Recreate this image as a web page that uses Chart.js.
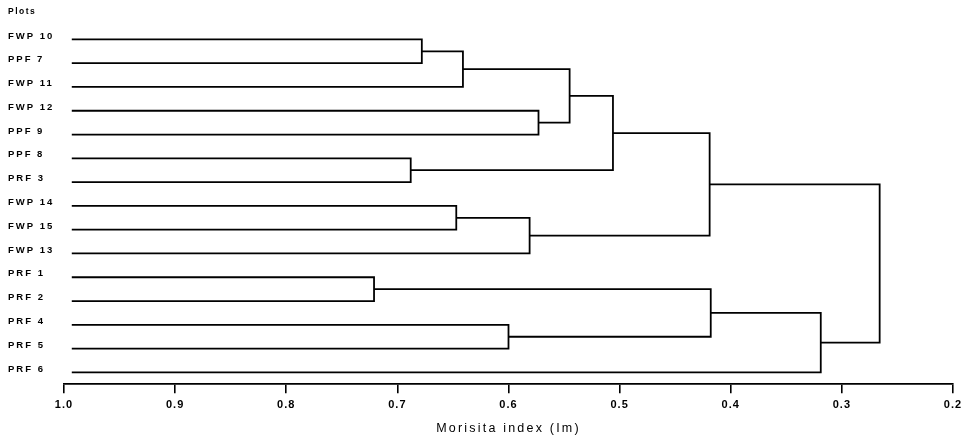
<!DOCTYPE html>
<html><head><meta charset="utf-8">
<script src="https://cdn.jsdelivr.net/npm/chart.js@4/dist/chart.umd.min.js"></script>
<style>html,body{margin:0;padding:0;background:#fff}</style>
</head><body>
<canvas id="c" width="967" height="435"></canvas>
<script>
// Leaves (top to bottom)
const plots = ['FWP 10','PPF 7','FWP 11','FWP 12','PPF 9','PPF 8','PRF 3','FWP 14','FWP 15','FWP 13','PRF 1','PRF 2','PRF 4','PRF 5','PRF 6'];
// Merges: ids 0..14 are leaves, each merge creates id 15, 16, ...
const mergeLeft  = [0, 15, 3, 16, 5, 18, 7, 21, 20, 10, 12, 24, 26, 23];
const mergeRight = [1,  2, 4, 17, 6, 19, 8,  9, 22, 11, 13, 25, 14, 27];
const mergeIndex = [0.678, 0.641, 0.573, 0.545, 0.688, 0.506, 0.647, 0.581, 0.419, 0.721, 0.600, 0.418, 0.319, 0.266];
const leafStart = 0.993;
const xTicks = [1.0, 0.9, 0.8, 0.7, 0.6, 0.5, 0.4, 0.3, 0.2];

const nodeX = plots.map(() => leafStart);
const nodeY = plots.map((_, i) => i);
const datasets = [];
mergeLeft.forEach((a, k) => {
  const b = mergeRight[k], h = mergeIndex[k];
  datasets.push({
    data: [
      {x: nodeX[a], y: nodeY[a]}, {x: h, y: nodeY[a]},
      {x: h, y: nodeY[b]}, {x: nodeX[b], y: nodeY[b]}
    ],
    showLine: true, borderColor: '#000', borderWidth: 1.8,
    pointRadius: 0, tension: 0, borderJoinStyle: 'miter', borderCapStyle: 'butt', fill: false
  });
  nodeX.push(h);
  nodeY.push((nodeY[a] + nodeY[b]) / 2);
});

// letter spacing for the typewriter-like lettering of the original
function wrap(obj, name, ls, ctx) {
  if (!obj || obj['_w_' + name]) return;
  const orig = obj[name];
  obj[name] = function () { const p = ctx.letterSpacing; ctx.letterSpacing = ls; const r = orig.apply(this, arguments); ctx.letterSpacing = p; return r; };
  obj['_w_' + name] = true;
}
const spacing = {id: 'spacing', beforeDraw(chart) {
  const ctx = chart.ctx;
  ctx.letterSpacing = '1.5px';
  wrap(chart.scales.x, 'drawLabels', '1px', ctx);
  wrap(chart.scales.x, 'drawTitle', '2.2px', ctx);
  wrap(chart.scales.y, 'drawLabels', '2px', ctx);
}};
const FONT = "'Liberation Sans', Arial, sans-serif";

new Chart(document.getElementById('c'), {
  type: 'scatter',
  data: {datasets},
  plugins: [spacing],
  options: {
    responsive: false, animation: false, devicePixelRatio: 1,
    layout: {padding: {left: 8, right: 14, top: 0, bottom: 0}},
    plugins: {
      legend: {display: false}, tooltip: {enabled: false},
      title: {display: true, text: 'Plots', align: 'start', color: '#000',
        font: {family: FONT, weight: 'bold', size: 8.5}, padding: {top: 7, bottom: 10.3}}
    },
    scales: {
      x: {
        type: 'linear', reverse: true, min: 0.2, max: 1.0,
        afterBuildTicks: s => { s.ticks = xTicks.map(v => ({value: v})); },
        ticks: {callback: v => Number(v).toFixed(1), color: '#000', padding: 5, maxRotation: 0, autoSkip: false,
          font: {family: FONT, size: 11, weight: 'bold'}},
        grid: {drawOnChartArea: false, drawTicks: true, tickLength: 9, color: '#000', lineWidth: 1.6},
        border: {display: true, color: '#000', width: 1.8},
        title: {display: true, text: 'Morisita index (Im)', color: '#000',
          font: {family: FONT, size: 12.5, lineHeight: 1}, padding: {top: 6, bottom: 0}}
      },
      y: {
        type: 'linear', reverse: true, min: -0.5, max: 14.5,
        afterBuildTicks: s => { s.ticks = plots.map((_, i) => ({value: i})); },
        afterFit: s => { s.width = 56; },
        ticks: {callback: v => plots[v], crossAlign: 'far', labelOffset: -3.5, color: '#000', autoSkip: false,
          font: {family: FONT, size: 9.5, weight: 'bold'}},
        grid: {display: false},
        border: {display: false}
      }
    }
  }
});
</script>
</body></html>
